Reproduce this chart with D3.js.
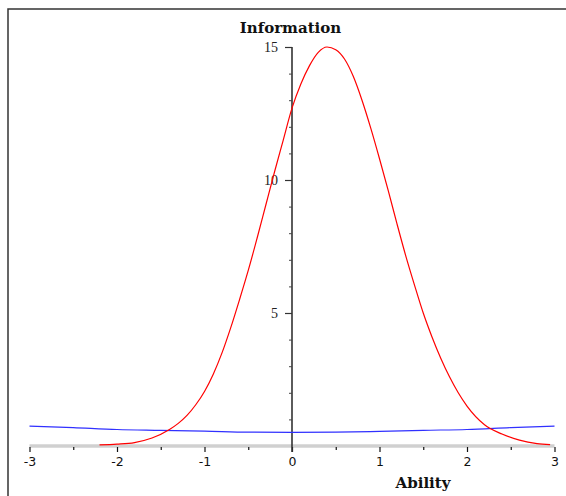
<!DOCTYPE html>
<html>
<head>
<meta charset="utf-8">
<script src="https://cdn.jsdelivr.net/npm/d3@7"></script>
<style>
  html, body { margin: 0; padding: 0; background: #fff; }
  svg { display: block; }
</style>
</head>
<body>
<svg id="chart" width="566" height="496"></svg>
<script>
// ---- data ----
const redTheta = [-2.2, -2.0, -1.8, -1.6, -1.4, -1.3, -1.2, -1.1, -1.0, -0.9, -0.8, -0.7, -0.6, -0.5, -0.4, -0.3, -0.2, -0.1, 0.0, 0.1, 0.2, 0.3, 0.4, 0.5, 0.6, 0.7, 0.8, 0.9, 1.0, 1.1, 1.2, 1.3, 1.4, 1.5, 1.6, 1.7, 1.8, 1.9, 2.0, 2.2, 2.4, 2.6, 2.8, 2.95];
const redInfo  = [0.04, 0.07, 0.13, 0.30, 0.62, 0.85, 1.15, 1.55, 2.05, 2.7, 3.5, 4.45, 5.5, 6.6, 7.8, 9.05, 10.3, 11.5, 12.7, 13.6, 14.3, 14.8, 15.0, 14.9, 14.55, 13.9, 13.0, 11.95, 10.8, 9.6, 8.35, 7.15, 6.05, 5.0, 4.1, 3.3, 2.6, 2.0, 1.5, 0.8, 0.45, 0.22, 0.09, 0.05];
const blueTheta = [-3, -2.5, -2, -1.5, -1, -0.5, 0, 0.5, 1, 1.5, 2, 2.5, 3];
const blueInfo  = [0.75, 0.69, 0.62, 0.59, 0.56, 0.52, 0.51, 0.52, 0.55, 0.59, 0.62, 0.69, 0.75];
const xMajorTicks = [-3, -2, -1, 0, 1, 2, 3];
const xMinorTicks = [-2.5, -1.5, -0.5, 0.5, 1.5, 2.5];
const yMajorTicks = [5, 10, 15];
const yMinorTicks = [1, 2, 3, 4, 6, 7, 8, 9, 11, 12, 13, 14];
const titleText = "Information";
const xLabelText = "Ability";

// ---- scales ----
const svg = d3.select("#chart");
const x = d3.scaleLinear().domain([-3, 3]).range([29.5, 554.5]);
const y = d3.scaleLinear().domain([0, 15]).range([446, 47]);

// frame
svg.append("path")
  .attr("d", "M8,496 L8,9 L566,9")
  .attr("fill", "none").attr("stroke", "#333").attr("stroke-width", 1.5);

// x axis (gray band + ticks)
svg.append("line")
  .attr("x1", x(-3)).attr("x2", x(3)).attr("y1", y(0)).attr("y2", y(0))
  .attr("stroke", "#d0d0d0").attr("stroke-width", 3.5);

const xMinor = svg.append("g").attr("transform", `translate(0,${y(0) + 1})`)
  .call(d3.axisBottom(x).tickValues(xMinorTicks).tickSize(3).tickFormat(""));
xMinor.select(".domain").remove();
xMinor.selectAll("line").attr("stroke", "#111").attr("stroke-width", 1.2);

const xMajor = svg.append("g").attr("transform", `translate(0,${y(0) + 1})`)
  .call(d3.axisBottom(x).tickValues(xMajorTicks).tickSize(5).tickFormat(d => String(d)));
xMajor.select(".domain").remove();
xMajor.selectAll("line").attr("stroke", "#111").attr("stroke-width", 1.2);
xMajor.selectAll("text")
  .attr("y", 15).attr("dy", "0.35em")
  .attr("font-family", "DejaVu Sans").attr("font-size", 12.5).attr("fill", "#111");

// y axis
svg.append("line")
  .attr("x1", x(0)).attr("x2", x(0)).attr("y1", y(15)).attr("y2", y(0) + 6)
  .attr("stroke", "#333").attr("stroke-width", 1.6);

const yMinor = svg.append("g").attr("transform", `translate(${x(0)},0)`)
  .call(d3.axisLeft(y).tickValues(yMinorTicks).tickSize(3).tickFormat(""));
yMinor.select(".domain").remove();
yMinor.selectAll("line").attr("stroke", "#444").attr("stroke-width", 1);

const yMajor = svg.append("g").attr("transform", `translate(${x(0)},0)`)
  .call(d3.axisLeft(y).tickValues(yMajorTicks).tickSize(7).tickFormat(d => String(d)));
yMajor.select(".domain").remove();
yMajor.selectAll("line").attr("stroke", "#333").attr("stroke-width", 1.2);
yMajor.selectAll("text")
  .attr("x", -14).attr("dy", "0.35em")
  .attr("font-family", "Liberation Serif").attr("font-size", 14).attr("fill", "#222");

// curves
const line = d3.line().x(d => x(d[0])).y(d => y(d[1])).curve(d3.curveMonotoneX);

svg.append("path")
  .datum(blueTheta.map((t, i) => [t, blueInfo[i]]))
  .attr("d", line)
  .attr("fill", "none").attr("stroke", "#3030ff").attr("stroke-width", 1.2);

svg.append("path")
  .datum(redTheta.map((t, i) => [t, redInfo[i]]))
  .attr("d", line)
  .attr("fill", "none").attr("stroke", "#ff0000").attr("stroke-width", 1.2);

// titles
svg.append("text")
  .attr("x", 290.5).attr("y", 33)
  .attr("text-anchor", "middle")
  .attr("font-family", "DejaVu Serif").attr("font-weight", "bold").attr("font-size", 15)
  .attr("fill", "#111")
  .text(titleText);

svg.append("text")
  .attr("x", 423).attr("y", 488)
  .attr("text-anchor", "middle")
  .attr("font-family", "DejaVu Serif").attr("font-weight", "bold").attr("font-size", 15)
  .attr("fill", "#111")
  .text(xLabelText);
</script>
</body>
</html>
